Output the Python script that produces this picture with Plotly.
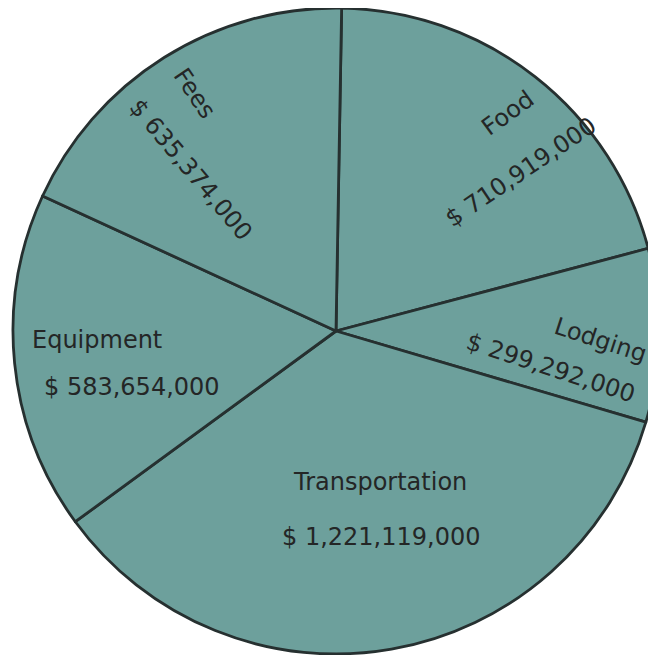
import plotly.graph_objects as go

# Data
categories = ["Food", "Lodging", "Transportation", "Equipment", "Fees"]
values = [710919000, 299292000, 1221119000, 583654000, 635374000]
value_labels = ["$ 710,919,000", "$ 299,292,000", "$ 1,221,119,000", "$ 583,654,000", "$ 635,374,000"]

W, H = 656, 655
OFF = 8  # page body margin
FILL = "#6da09c"
EDGE = "#263030"
TXT = "#242626"
FONT = "DejaVu Sans, Verdana, sans-serif"

fig = go.Figure(go.Pie(
    labels=categories,
    values=values,
    sort=False,
    direction="clockwise",
    rotation=1,
    textinfo="none",
    hoverinfo="skip",
    marker=dict(colors=[FILL] * len(categories), line=dict(color=EDGE, width=2.8)),
    domain=dict(x=[5 / W, 651 / W], y=[9 / H, 1.0]),
    showlegend=False,
))

# label placement in window pixels (centre x, centre y, angle)
name_pos = {
    "Food": (508, 113, -36),
    "Lodging": (600, 340, 18),
    "Transportation": (380, 482, 0),
    "Equipment": (97, 340, 0),
    "Fees": (195, 94, 56),
}
value_pos = {
    "Food": (521, 172, -34),
    "Lodging": (551, 368, 18),
    "Transportation": (381, 537, 0),
    "Equipment": (132, 387, 0),
    "Fees": (191, 170, 50),
}

annotations = []
for cat, vlab in zip(categories, value_labels):
    for text, (px, py, ang) in ((cat, name_pos[cat]), (vlab, value_pos[cat])):
        annotations.append(dict(
            x=(px - OFF) / W, y=1 - (py - OFF) / H, xref="paper", yref="paper",
            text=text, showarrow=False, textangle=ang,
            xanchor="center", yanchor="middle",
            font=dict(family=FONT, size=24, color=TXT),
        ))

fig.update_layout(
    width=W, height=H,
    margin=dict(l=0, r=0, t=0, b=0),
    paper_bgcolor="white",
    plot_bgcolor="white",
    annotations=annotations,
)

fig.write_html("out.html")
